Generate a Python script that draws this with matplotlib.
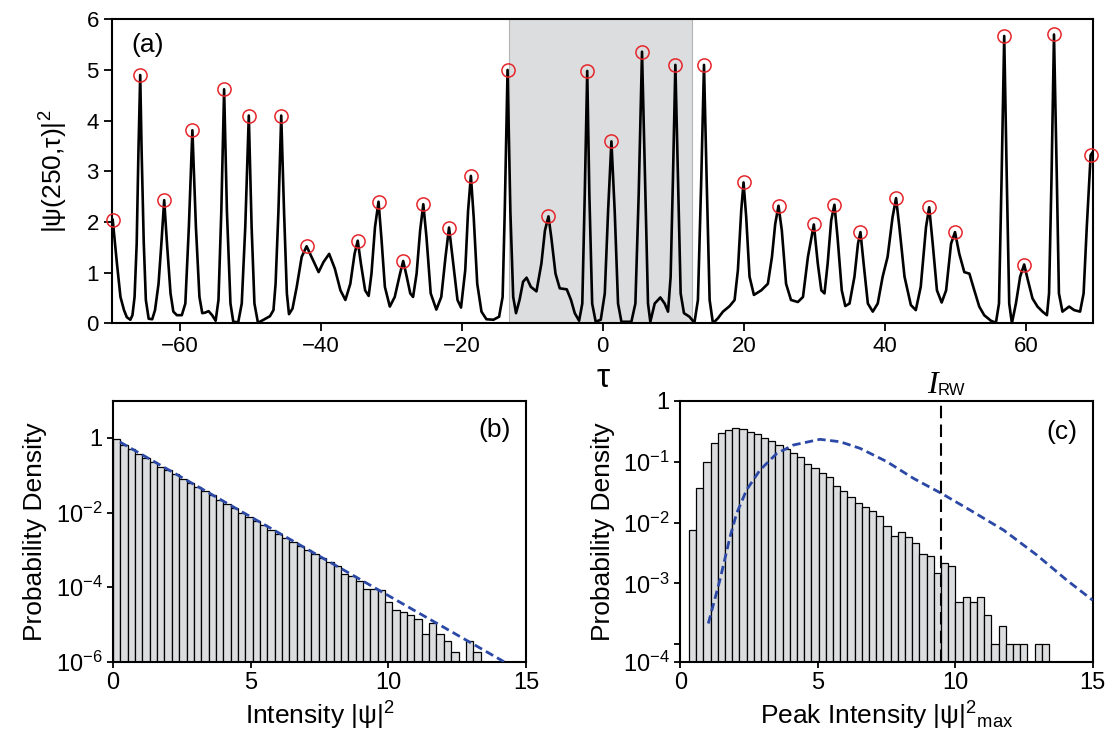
import numpy as np
import matplotlib
matplotlib.use("Agg")
import matplotlib.pyplot as plt
from matplotlib.ticker import NullLocator, NullFormatter
import matplotlib.transforms as mtransforms

# ---- panel (a): |psi(250,tau)|^2 trace ----
trace_points = [
    (-69.5, 2.04), (-68.9, 1.18), (-68.4, 0.52), (-67.9, 0.26), (-67.5, 0.12), (-67.0, 0.07),
    (-66.7, 0.16), (-66.4, 0.52), (-66.1, 1.57), (-65.85, 3.40), (-65.6, 4.90), (-65.4, 3.40),
    (-65.1, 1.60), (-64.8, 0.46), (-64.4, 0.09), (-63.9, 0.08), (-63.5, 0.26), (-63.0, 0.78),
    (-62.6, 1.57), (-62.2, 2.43), (-61.8, 1.57), (-61.3, 0.59), (-60.9, 0.23), (-60.4, 0.16),
    (-59.7, 0.16), (-59.2, 0.39), (-58.7, 1.90), (-58.2, 3.81), (-57.7, 1.90), (-57.2, 0.52),
    (-56.8, 0.20), (-56.4, 0.21), (-55.9, 0.24), (-55.4, 0.16), (-54.9, 0.05), (-54.5, 0.46),
    (-54.1, 2.20), (-53.7, 4.62), (-53.3, 2.20), (-52.8, 0.39), (-52.4, 0.03), (-51.7, 0.02),
    (-51.2, 0.39), (-50.7, 1.90), (-50.2, 4.10), (-49.8, 1.90), (-49.4, 0.39), (-48.9, 0.01),
    (-48.1, 0.07), (-47.2, 0.14), (-46.7, 0.26), (-46.4, 0.78), (-46.0, 2.20), (-45.6, 4.10),
    (-45.2, 2.20), (-44.8, 0.59), (-44.5, 0.18), (-44.0, 0.29), (-43.4, 0.72), (-42.7, 1.31),
    (-42.0, 1.52), (-41.3, 1.31), (-40.3, 1.01), (-39.6, 1.21), (-38.8, 1.37), (-38.0, 1.08),
    (-37.2, 0.65), (-36.5, 0.46), (-35.8, 0.78), (-35.2, 1.37), (-34.75, 1.63), (-34.3, 1.18),
    (-33.7, 0.65), (-33.2, 0.54), (-32.8, 0.98), (-32.3, 1.90), (-31.8, 2.40), (-31.4, 1.70),
    (-30.9, 0.72), (-30.2, 0.33), (-29.5, 0.52), (-28.75, 0.98), (-28.3, 1.23), (-27.8, 0.92),
    (-27.3, 0.59), (-26.9, 0.52), (-26.4, 0.98), (-25.9, 1.83), (-25.45, 2.35), (-25.0, 1.70),
    (-24.4, 0.59), (-23.6, 0.27), (-22.9, 0.52), (-22.3, 1.31), (-21.8, 1.89), (-21.2, 1.18),
    (-20.6, 0.46), (-20.1, 0.31), (-19.5, 1.05), (-19.1, 2.22), (-18.7, 2.91), (-18.3, 2.09),
    (-17.8, 0.78), (-17.2, 0.23), (-16.5, 0.08), (-15.5, 0.07), (-14.7, 0.13), (-14.2, 0.52),
    (-13.9, 2.20), (-13.5, 5.00), (-13.1, 2.20), (-12.7, 0.52), (-12.3, 0.20), (-11.8, 0.46),
    (-11.3, 0.82), (-10.8, 0.90), (-10.2, 0.72), (-9.4, 0.63), (-8.7, 1.18), (-8.2, 1.83),
    (-7.7, 2.11), (-7.3, 1.70), (-6.7, 0.98), (-6.1, 0.69), (-5.1, 0.67), (-4.5, 0.46),
    (-3.97, 0.20), (-3.35, 0.05), (-2.9, 0.39), (-2.55, 2.55), (-2.2, 4.98), (-1.9, 2.55),
    (-1.5, 0.39), (-1.0, 0.03), (-0.28, 0.07), (0.29, 0.59), (0.76, 2.22), (1.23, 3.59),
    (1.7, 2.20), (2.17, 0.39), (2.65, 0.03), (4.06, 0.03), (4.63, 0.39), (5.1, 2.55),
    (5.57, 5.36), (6.05, 2.55), (6.42, 0.39), (6.75, 0.03), (7.37, 0.39), (8.17, 0.51),
    (8.78, 0.39), (9.26, 0.23), (9.63, 0.92), (9.96, 2.88), (10.3, 5.10), (10.67, 2.88),
    (11.05, 0.59), (11.52, 0.20), (12.3, 0.13), (13.0, 0.01), (13.5, 0.46), (13.98, 2.88),
    (14.36, 5.10), (14.73, 2.88), (15.16, 0.46), (15.63, 0.00), (16.34, 0.10), (17.05, 0.23),
    (18.0, 0.34), (18.7, 0.46), (19.17, 1.05), (19.64, 2.22), (19.97, 2.78), (20.35, 2.09),
    (20.82, 0.92), (21.44, 0.56), (22.48, 0.65), (23.42, 0.78), (24.0, 1.31), (24.46, 1.96),
    (24.93, 2.32), (25.4, 1.83), (26.0, 0.78), (26.7, 0.46), (27.67, 0.42), (28.4, 0.52),
    (29.1, 1.31), (29.94, 1.95), (30.5, 1.18), (31.0, 0.65), (31.45, 0.59), (31.9, 1.18),
    (32.4, 2.03), (32.86, 2.34), (33.3, 1.70), (33.9, 0.65), (34.4, 0.34), (35.0, 0.39),
    (35.7, 0.92), (36.2, 1.57), (36.55, 1.80), (37.0, 1.18), (37.6, 0.39), (38.3, 0.23),
    (39.0, 0.39), (39.7, 0.92), (40.4, 1.31), (41.1, 2.09), (41.6, 2.47), (42.07, 1.90),
    (42.8, 0.92), (43.7, 0.36), (44.4, 0.26), (45.1, 0.72), (45.85, 1.90), (46.3, 2.29),
    (46.8, 1.57), (47.4, 0.65), (48.07, 0.41), (48.7, 0.65), (49.4, 1.57), (49.96, 1.80),
    (50.57, 1.37), (51.28, 1.01), (52.0, 0.98), (52.7, 0.65), (53.4, 0.33), (54.1, 0.16),
    (55.06, 0.05), (55.76, 0.01), (56.2, 0.39), (56.57, 2.88), (56.94, 5.67), (57.3, 2.88),
    (57.65, 0.39), (58.03, 0.00), (58.6, 0.39), (59.2, 0.92), (59.77, 1.16), (60.3, 0.85),
    (60.95, 0.49), (61.66, 0.33), (62.37, 0.23), (63.0, 0.16), (63.3, 0.59), (63.65, 2.88),
    (64.0, 5.70), (64.4, 2.88), (64.7, 0.59), (65.2, 0.23), (66.15, 0.33), (66.86, 0.26),
    (67.7, 0.23), (68.2, 0.59), (68.65, 1.90), (69.2, 3.32), (69.6, 3.40),
]
peak_tau = [-69.5, -65.6, -62.2, -58.2, -53.7, -50.2, -45.6, -42.0, -34.75, -31.8, -28.3,
            -25.45, -21.8, -18.7, -13.5, -7.7, -2.2, 1.23, 5.57, 10.3, 14.36, 19.97,
            24.93, 29.94, 32.86, 36.55, 41.6, 46.3, 49.96, 56.94, 59.77, 64.0, 69.3]
peak_psi2 = [2.04, 4.90, 2.43, 3.81, 4.62, 4.10, 4.10, 1.52, 1.63, 2.40, 1.23,
             2.35, 1.89, 2.91, 5.00, 2.11, 4.98, 3.59, 5.36, 5.10, 5.10, 2.78,
             2.32, 1.95, 2.34, 1.80, 2.47, 2.29, 1.80, 5.67, 1.16, 5.70, 3.32]
window_tau = (-13.3, 12.7)

# ---- panel (b): intensity histogram ----
b_bin_start = 0.0
b_bin_width = 0.267
b_density = [0.91, 0.65, 0.50, 0.38, 0.29, 0.22, 0.17, 0.135, 0.105, 0.081,
             0.062, 0.049, 0.037, 0.029, 0.022, 0.017, 0.013, 0.010, 7.8e-3, 5.9e-3,
             4.5e-3, 3.5e-3, 2.7e-3, 2.1e-3, 1.6e-3, 1.26e-3, 9.8e-4, 7.6e-4, 6.0e-4, 4.6e-4,
             3.7e-4, 2.3e-4, 1.95e-4, 1.45e-4, 8.7e-5, 8.7e-5, 8.3e-5, 3.9e-5, 2.5e-5, 2.1e-5,
             1.8e-5, 1.4e-5, 5.4e-6, 1.07e-5, 5.4e-6, 3.5e-6, 1.8e-6, 0.0, 3.5e-6, 1.8e-6]
b_fit_I = [0.25, 14.2]
b_fit_p = [0.78, 1.0e-6]

# ---- panel (c): peak-intensity histogram ----
c_bin_start = 0.32
c_bin_width = 0.2618
c_density = [7.6e-3, 0.037, 0.10, 0.20, 0.30, 0.33, 0.35, 0.34, 0.31, 0.28,
             0.245, 0.22, 0.19, 0.16, 0.14, 0.117, 0.093, 0.079, 0.066, 0.055,
             0.040, 0.033, 0.026, 0.021, 0.018, 0.0155, 0.0129, 8.7e-3, 5.9e-3, 7.1e-3,
             5.8e-3, 4.6e-3, 3.0e-3, 2.8e-3, 1.5e-3, 2.2e-3, 1.9e-3, 5.0e-4, 6.0e-4, 5.0e-4,
             6.0e-4, 3.0e-4, 1.0e-4, 2.0e-4, 1.0e-4, 1.0e-4, 1.0e-4, 0.0, 1.0e-4, 1.0e-4]
c_fit_I = [1.02, 1.44, 1.81, 2.05, 2.41, 2.90, 3.51, 4.11, 5.08, 5.81, 6.54,
           7.51, 8.48, 9.49, 10.54, 11.76, 12.97, 14.06, 15.0]
c_fit_p = [2.2e-4, 1.13e-3, 5.8e-3, 0.0141, 0.0341, 0.0728, 0.136, 0.187, 0.232, 0.212, 0.165,
           0.100, 0.0531, 0.0302, 0.0160, 7.5e-3, 2.92e-3, 1.13e-3, 5.3e-4]
I_RW = 9.5

plt.rcParams["font.family"] = ["Liberation Sans", "DejaVu Sans"]
plt.rcParams["mathtext.fontset"] = "custom"
plt.rcParams["mathtext.rm"] = "Liberation Sans"
plt.rcParams["mathtext.it"] = "Liberation Sans:italic"
plt.rcParams["mathtext.bf"] = "Liberation Sans:bold"
plt.rcParams["axes.linewidth"] = 1.5

BAR_FACE = "#dcdddf"
FIT_BLUE = "#2b48a6"


def style_axes(ax, labelsize, ticklen):
    ax.tick_params(direction="out", length=ticklen, width=1.3, labelsize=labelsize,
                   top=False, right=False)


def draw_hist(ax, start, width, density):
    lefts = start + width * np.arange(len(density))
    dens = np.asarray(density)
    keep = dens > 0
    ax.bar(lefts[keep], dens[keep], width=width, align="edge", color=BAR_FACE,
           edgecolor="black", linewidth=0.9, zorder=2)


fig = plt.figure(figsize=(11.09, 7.42), dpi=100)

# (a)
ax_a = fig.add_axes([0.101, 0.5643, 0.885, 0.4097])
tau_trace, psi2_trace = np.array(trace_points).T
ax_a.axvspan(*window_tau, facecolor="#dcdddf", edgecolor="#b5b5b5", linewidth=0.8, zorder=0)
ax_a.plot(tau_trace, psi2_trace, color="black", linewidth=1.9, zorder=2,
          solid_joinstyle="round")
ax_a.plot(peak_tau, peak_psi2, linestyle="none", marker="o", markersize=9.5,
          markerfacecolor="none", markeredgecolor="#e5262b", markeredgewidth=1.1,
          zorder=3, clip_on=False)
ax_a.set_xlim(-69.6, 69.6)
ax_a.set_ylim(0, 6)
ax_a.set_xticks([-60, -40, -20, 0, 20, 40, 60])
ax_a.set_yticks([0, 1, 2, 3, 4, 5, 6])
style_axes(ax_a, 16, 6)
ax_a.set_xlabel("τ", fontsize=24, labelpad=4)
ax_a.set_ylabel("|ψ(250,τ)|$^{2}$", fontsize=19, labelpad=12)
ax_a.text(0.02, 0.915, "(a)", transform=ax_a.transAxes, fontsize=19, va="center", ha="left")

# (b)
ax_b = fig.add_axes([0.1019, 0.1082, 0.3724, 0.3518])
ax_b.set_yscale("log")
draw_hist(ax_b, b_bin_start, b_bin_width, b_density)
ax_b.plot(b_fit_I, b_fit_p, color=FIT_BLUE, linestyle=(0, (3, 1.6)), linewidth=2.0, zorder=3)
ax_b.set_xlim(0, 15)
ax_b.set_ylim(1e-6, 10)
ax_b.set_xticks([0, 5, 10, 15])
ax_b.set_yticks([1, 1e-2, 1e-4, 1e-6], ["1", "10$^{-2}$", "10$^{-4}$", "10$^{-6}$"])
ax_b.yaxis.set_minor_locator(NullLocator())
style_axes(ax_b, 17, 4)
ax_b.set_xlabel("Intensity |ψ|$^{2}$", fontsize=19, labelpad=4)
ax_b.set_ylabel("Probability Density", fontsize=19, labelpad=6)
ax_b.text(0.964, 0.889, "(b)", transform=ax_b.transAxes, fontsize=19, va="center", ha="right")

# (c)
ax_c = fig.add_axes([0.6134, 0.1082, 0.3719, 0.3518])
ax_c.set_yscale("log")
draw_hist(ax_c, c_bin_start, c_bin_width, c_density)
ax_c.plot(c_fit_I, c_fit_p, color=FIT_BLUE, linestyle=(0, (3, 1.6)), linewidth=2.0, zorder=3)
ax_c.axvline(I_RW, color="black", linestyle=(0, (6, 3)), linewidth=1.5, zorder=4)
ax_c.set_xlim(0, 15)
c_bottom = 10 ** -4.285
ax_c.set_ylim(c_bottom, 1)
ax_c.set_yticks([c_bottom, 1e-3, 1e-2, 1e-1, 1],
                ["10$^{-4}$", "10$^{-3}$", "10$^{-2}$", "10$^{-1}$", "1"])
ax_c.set_yticks([1e-4], minor=True)
ax_c.yaxis.set_minor_formatter(NullFormatter())
ax_c.tick_params(axis="y", which="minor", direction="out", length=4, width=1.3)
ax_c.set_xticks([0, 5, 10, 15])
style_axes(ax_c, 17, 4)
ax_c.set_xlabel("Peak Intensity |ψ|$^{2}{}_{\\mathrm{max}}$", fontsize=19, labelpad=4)
ax_c.set_ylabel("Probability Density", fontsize=19, labelpad=6)
ax_c.text(0.962, 0.88, "(c)", transform=ax_c.transAxes, fontsize=19, va="center", ha="right")
blend = mtransforms.blended_transform_factory(ax_c.transData, ax_c.transAxes)
ax_c.text(9.36, 1.03, "I", transform=blend, ha="right", va="baseline", fontsize=23,
          family="Liberation Serif", style="italic")
ax_c.text(9.36, 1.022, "RW", transform=blend, ha="left", va="baseline", fontsize=12)

fig.savefig("out.png", dpi=100)
